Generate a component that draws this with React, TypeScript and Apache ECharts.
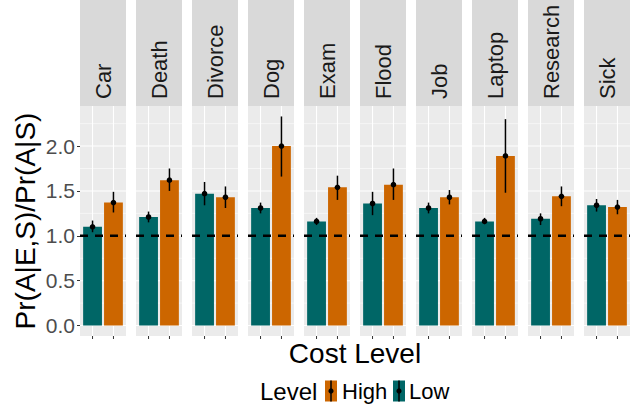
import React, { useEffect, useRef } from 'react';
import * as echarts from 'echarts';

const facets = ['Car', 'Death', 'Divorce', 'Dog', 'Exam', 'Flood', 'Job', 'Laptop', 'Research', 'Sick'];
const levels = ['Low', 'High'];
const lowMean = [1.10, 1.21, 1.47, 1.31, 1.16, 1.36, 1.31, 1.16, 1.19, 1.34];
const lowLower = [1.04, 1.15, 1.34, 1.25, 1.12, 1.23, 1.25, 1.13, 1.12, 1.27];
const lowUpper = [1.17, 1.27, 1.60, 1.37, 1.20, 1.49, 1.37, 1.20, 1.25, 1.41];
const highMean = [1.37, 1.62, 1.43, 2.00, 1.54, 1.57, 1.43, 1.89, 1.44, 1.32];
const highLower = [1.26, 1.50, 1.31, 1.66, 1.40, 1.40, 1.35, 1.48, 1.33, 1.24];
const highUpper = [1.49, 1.75, 1.55, 2.33, 1.67, 1.75, 1.51, 2.30, 1.55, 1.40];
const yTicks = [0, 0.5, 1, 1.5, 2];
const yMinor = [0.25, 0.75, 1.25, 1.75, 2.25];
const refLine = 1;

const COLORS: Record<string, string> = { Low: '#006666', High: '#CC6600' };
const FONT = 'Liberation Sans, Arial, Helvetica, sans-serif';
const Y_MIN = -0.1165;
const Y_MAX = 2.4465;
const X_MIN = 0.4;
const X_MAX = 2.6;
const PANEL_LEFT = 80;
const PANEL_W = 46;
const PANEL_GAP = 10;
const PANEL_TOP = 106;
const PANEL_H = 230;

export default function App() {
  const ref = useRef<HTMLDivElement>(null);
  useEffect(() => {
    if (!ref.current) return;
    const chart = echarts.init(ref.current, null, { renderer: 'svg' });
    const grids: any[] = [];
    const xAxes: any[] = [];
    const yAxes: any[] = [];
    const series: any[] = [];
    const graphic: any[] = [];

    facets.forEach((f, i) => {
      const left = PANEL_LEFT + i * (PANEL_W + PANEL_GAP);
      grids.push({
        left, top: PANEL_TOP, width: PANEL_W, height: PANEL_H,
        show: true, backgroundColor: '#EBEBEB', borderWidth: 0,
      });
      xAxes.push({ gridIndex: i, type: 'value', min: X_MIN, max: X_MAX, show: false });
      yAxes.push({
        gridIndex: i, type: 'value', min: Y_MIN, max: Y_MAX, show: i === 0,
        axisLine: { show: false },
        splitLine: { show: false },
        axisTick: { show: true, length: 3, lineStyle: { color: '#333333', width: 1 }, customValues: yTicks },
        axisLabel: {
          customValues: yTicks,
          color: '#4D4D4D', fontSize: 21, fontFamily: FONT, margin: 5,
          formatter: (v: number) => (yTicks.some((t) => Math.abs(t - v) < 1e-6) ? v.toFixed(1) : ''),
        },
      });
      // grid lines
      const gridData: any[] = [];
      yTicks.forEach((v) => gridData.push([0, v, 1]));
      yMinor.forEach((v) => gridData.push([0, v, 0]));
      [1, 2].forEach((v) => gridData.push([1, v, 1]));
      series.push({
        type: 'custom', xAxisIndex: i, yAxisIndex: i, z: 1, silent: true,
        data: gridData,
        renderItem: (params: any, api: any) => {
          const dir = api.value(0), v = api.value(1), major = api.value(2);
          const cs = params.coordSys;
          if (dir === 0) {
            const y = api.coord([1, v])[1];
            return { type: 'line', shape: { x1: cs.x, y1: y, x2: cs.x + cs.width, y2: y },
              style: { stroke: '#FFFFFF', lineWidth: major ? 1.1 : 0.55 } };
          }
          const x = api.coord([v, 0])[0];
          return { type: 'line', shape: { x1: x, y1: cs.y, x2: x, y2: cs.y + cs.height },
            style: { stroke: '#FFFFFF', lineWidth: 1.1 } };
        },
      });
      // bars
      const barData = [
        [1, lowMean[i], lowLower[i], lowUpper[i], 0],
        [2, highMean[i], highLower[i], highUpper[i], 1],
      ];
      series.push({
        type: 'custom', xAxisIndex: i, yAxisIndex: i, z: 2, silent: true,
        data: barData,
        renderItem: (params: any, api: any) => {
          const x = api.value(0), m = api.value(1), li = api.value(4);
          const p0 = api.coord([x - 0.45, 0]);
          const p1 = api.coord([x + 0.45, m]);
          const pm = api.coord([x, m]);
          const base = api.coord([x, Y_MIN]);
          return {
            type: 'group',
            children: [
              { type: 'rect', shape: { x: p0[0], y: p1[1], width: p1[0] - p0[0], height: p0[1] - p1[1] },
                style: { fill: COLORS[levels[li]] } },
              { type: 'line', shape: { x1: pm[0], y1: base[1], x2: pm[0], y2: base[1] + 3 },
                style: { stroke: '#333333', lineWidth: 1 } },
            ],
          };
        },
      });
      // reference dashed line
      series.push({
        type: 'custom', xAxisIndex: i, yAxisIndex: i, z: 3, silent: true,
        data: [[refLine]],
        renderItem: (params: any, api: any) => {
          const cs = params.coordSys;
          const y = api.coord([1, api.value(0)])[1];
          return { type: 'line', shape: { x1: cs.x, y1: y, x2: cs.x + cs.width, y2: y },
            style: { stroke: '#000000', lineWidth: 2.6, lineDash: [8, 7] } };
        },
      });
      // error bars
      series.push({
        type: 'custom', xAxisIndex: i, yAxisIndex: i, z: 4, silent: true,
        data: barData,
        renderItem: (params: any, api: any) => {
          const x = api.value(0), m = api.value(1), lo = api.value(2), hi = api.value(3);
          const pm = api.coord([x, m]);
          const plo = api.coord([x, lo]);
          const phi = api.coord([x, hi]);
          return {
            type: 'group',
            children: [
              { type: 'line', shape: { x1: pm[0], y1: plo[1], x2: pm[0], y2: phi[1] },
                style: { stroke: '#000000', lineWidth: 1.5 } },
              { type: 'circle', shape: { cx: pm[0], cy: pm[1], r: 2.8 }, style: { fill: '#000000' } },
            ],
          };
        },
      });
      // strip
      graphic.push({ type: 'rect', shape: { x: left, y: 0, width: PANEL_W, height: PANEL_TOP }, style: { fill: '#D9D9D9' } });
      graphic.push({
        type: 'text', x: left + PANEL_W / 2, y: PANEL_TOP - 7, rotation: Math.PI / 2,
        style: { text: f, fontSize: 22, fontFamily: FONT, fill: '#1A1A1A', textAlign: 'left', textVerticalAlign: 'middle' },
      });
    });

    // axis titles
    graphic.push({
      type: 'text', x: 25, y: 221, rotation: Math.PI / 2,
      style: { text: 'Pr(A|E,S)/Pr(A|S)', fontSize: 28, fontFamily: FONT, fill: '#000000', textAlign: 'center', textVerticalAlign: 'middle' },
    });
    graphic.push({
      type: 'text', x: 355, y: 353,
      style: { text: 'Cost Level', fontSize: 28, fontFamily: FONT, fill: '#000000', textAlign: 'center', textVerticalAlign: 'middle' },
    });
    // legend
    const ly = 391;
    graphic.push({ type: 'text', x: 260, y: ly, style: { text: 'Level', fontSize: 24, fontFamily: FONT, fill: '#000000', textAlign: 'left', textVerticalAlign: 'middle' } });
    const legendItems = [
      { name: 'High', kx: 325, tx: 342 },
      { name: 'Low', kx: 393, tx: 409 },
    ];
    legendItems.forEach((it) => {
      graphic.push({ type: 'rect', shape: { x: it.kx, y: ly - 10.5, width: 12, height: 21 }, style: { fill: COLORS[it.name] } });
      graphic.push({ type: 'line', shape: { x1: it.kx + 6, y1: ly - 10.5, x2: it.kx + 6, y2: ly + 10.5 }, style: { stroke: '#000000', lineWidth: 1.5 } });
      graphic.push({ type: 'circle', shape: { cx: it.kx + 6, cy: ly, r: 2.6 }, style: { fill: '#000000' } });
      graphic.push({ type: 'text', x: it.tx, y: ly, style: { text: it.name, fontSize: 22, fontFamily: FONT, fill: '#000000', textAlign: 'left', textVerticalAlign: 'middle' } });
    });

    chart.setOption({
      animation: false,
      backgroundColor: '#FFFFFF',
      grid: grids,
      xAxis: xAxes,
      yAxis: yAxes,
      series,
      graphic,
    });
    return () => chart.dispose();
  }, []);
  return <div ref={ref} style={{ width: 632, height: 408, position: 'absolute', left: 0, top: 0 }} />;
}
